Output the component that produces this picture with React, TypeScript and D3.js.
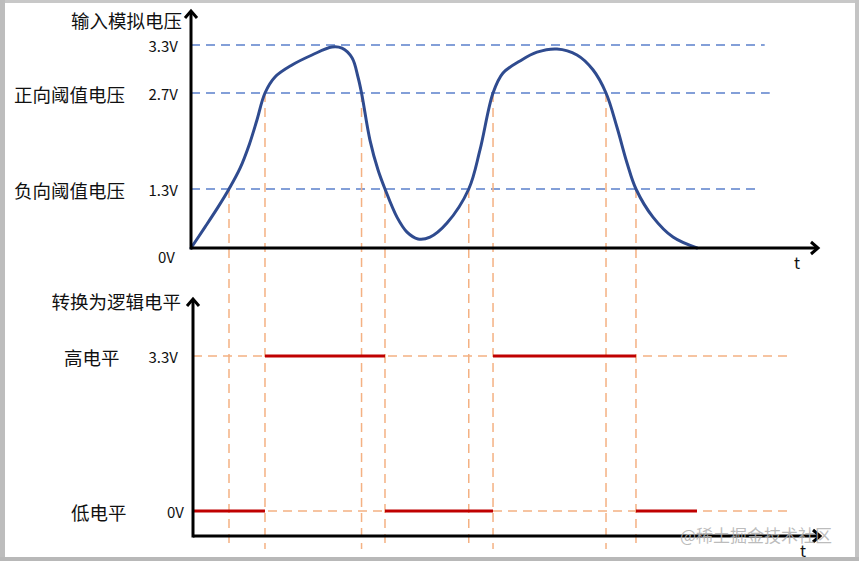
import React from "react";
import * as d3 from "d3";

// ---- data ----
const curveTime = [0, 0.223, 0.431, 0.606, 0.781, 0.93, 1.053, 1.18, 1.34, 1.611, 1.93, 2.249, 2.408, 2.568, 2.663, 2.72, 2.855, 2.982, 3.094, 3.285, 3.445, 3.62, 3.812, 4.083, 4.43, 4.609, 4.817, 4.976, 5.247, 5.518, 5.837, 6.156, 6.411, 6.619, 6.794, 6.954, 7.097, 7.368, 7.687, 8.07];
const curveVolt = [0, 0.46, 0.9, 1.3, 1.6, 1.95, 2.31, 2.7, 2.9, 3.05, 3.175, 3.275, 3.26, 3.14, 2.9, 2.7, 2.01, 1.58, 1.3, 0.68, 0.35, 0.2, 0.24, 0.55, 1.3, 1.87, 2.7, 2.95, 3.1, 3.21, 3.25, 3.175, 2.99, 2.7, 2.2, 1.68, 1.3, 0.68, 0.24, 0];

const thresholdLevels = [3.3, 2.7, 1.3];
const thresholdTicks = ["3.3V", "2.7V", "1.3V"];
const thresholdEnds = [9.15, 9.23, 9.04];
const thresholdNames = ["", "正向阈值电压", "负向阈值电压"];

const crossTimes = [0.606, 1.18, 2.72, 3.094, 4.43, 4.817, 6.619, 7.097];
const crossLevels = [1.3, 2.7, 2.7, 1.3, 1.3, 2.7, 2.7, 1.3];

const logicStart = [0.03, 1.18, 3.094, 4.817, 7.097];
const logicEnd = [1.18, 3.094, 4.817, 7.097, 8.07];
const logicLevel = [0, 3.3, 0, 3.3, 0];
const logicTicks = ["0V", "3.3V"];
const logicNames = ["低电平", "高电平"];
const logicValues = [0, 3.3];

const FONT = "'Noto Sans CJK SC', 'Noto Sans', sans-serif";

export default function App() {
  const W = 859, H = 561;
  const x = d3.scaleLinear().domain([0, 10]).range([191, 818]);
  const yTop = d3.scaleLinear().domain([0, 1.3, 2.7, 3.3]).range([248, 189, 93, 45]);
  const yBot = d3.scaleLinear().domain([0, 3.3]).range([511, 356]);

  const pts: [number, number][] = curveTime.map((t, i) => [t, curveVolt[i]]);
  const line = d3
    .line<[number, number]>()
    .x((d) => x(d[0]))
    .y((d) => yTop(d[1]))
    .curve(d3.curveCatmullRom.alpha(0.5));

  const topAxisX = x(0);
  const botAxisX = x(0) + 2;
  const topBase = yTop(0);
  const botBase = 536;
  const ink = "#111";

  return (
    <svg
      width={W}
      height={H}
      style={{ position: "absolute", left: 0, top: 0, background: "#fff" }}
      fontFamily={FONT}
    >
      {/* frame */}
      <rect x={0} y={0} width={W} height={H} fill="#fff" />
      <rect x={0} y={0} width={W} height={3} fill="#c8c8c8" />
      <rect x={0} y={0} width={5} height={H} fill="#bdbdbd" />
      <rect x={W - 4} y={0} width={4} height={H} fill="#c4c4c4" />
      <rect x={0} y={H - 4} width={W} height={4} fill="#b8b8b8" />

      {/* blue threshold guides */}
      {thresholdLevels.map((v, i) => (
        <line
          key={"g" + i}
          x1={topAxisX}
          x2={x(thresholdEnds[i])}
          y1={yTop(v)}
          y2={yTop(v)}
          stroke="#5b80cc"
          strokeWidth={1.3}
          strokeDasharray="9 6"
        />
      ))}

      {/* bottom orange horizontal guides */}
      {logicValues.map((v, i) => (
        <line
          key={"lg" + i}
          x1={botAxisX}
          x2={x(9.6)}
          y1={yBot(v)}
          y2={yBot(v)}
          stroke="#f4b183"
          strokeWidth={1.5}
          strokeDasharray="9 6"
        />
      ))}

      {/* orange verticals */}
      {crossTimes.map((t, i) => (
        <line
          key={"v" + i}
          x1={x(t)}
          x2={x(t)}
          y1={yTop(crossLevels[i])}
          y2={549}
          stroke="#f4b183"
          strokeWidth={1.5}
          strokeDasharray="9 6"
        />
      ))}

      {/* curve */}
      <path d={line(pts) || ""} fill="none" stroke="#2f4b8f" strokeWidth={3} strokeLinecap="round" strokeLinejoin="round" />

      {/* logic levels */}
      {logicStart.map((s, i) => (
        <line
          key={"r" + i}
          x1={x(s)}
          x2={x(logicEnd[i])}
          y1={yBot(logicLevel[i])}
          y2={yBot(logicLevel[i])}
          stroke="#c00000"
          strokeWidth={3}
        />
      ))}

      {/* top axes */}
      <line x1={topAxisX} x2={topAxisX} y1={topBase + 1.5} y2={11} stroke="#000" strokeWidth={3} />
      <polyline
        points={`${topAxisX - 6},${18} ${topAxisX},${11} ${topAxisX + 6},${18}`}
        fill="none"
        stroke="#000"
        strokeWidth={3}
      />
      <line x1={topAxisX} x2={818} y1={topBase} y2={topBase} stroke="#000" strokeWidth={3} />
      <polyline
        points={`${811},${topBase - 6} ${818},${topBase} ${811},${topBase + 6}`}
        fill="none"
        stroke="#000"
        strokeWidth={3}
      />

      {/* bottom axes */}
      <line x1={botAxisX} x2={botAxisX} y1={botBase + 1.5} y2={299} stroke="#000" strokeWidth={3} />
      <polyline
        points={`${botAxisX - 6},${306} ${botAxisX},${299} ${botAxisX + 6},${306}`}
        fill="none"
        stroke="#000"
        strokeWidth={3}
      />
      <line x1={botAxisX} x2={820} y1={botBase} y2={botBase} stroke="#000" strokeWidth={3} />
      <polyline
        points={`${813},${botBase - 6} ${820},${botBase} ${813},${botBase + 6}`}
        fill="none"
        stroke="#000"
        strokeWidth={3}
      />

      {/* top labels */}
      <text x={182} y={20} fontSize={18.5} textAnchor="end" dominantBaseline="central" fill={ink}>
        输入模拟电压
      </text>
      {thresholdLevels.map((v, i) => (
        <text key={"tt" + i} x={178} y={yTop(v)} fontSize={15} textAnchor="end" dominantBaseline="central" fill={ink}>
          {thresholdTicks[i]}
        </text>
      ))}
      {thresholdLevels.map((v, i) =>
        thresholdNames[i] ? (
          <text key={"tn" + i} x={14} y={yTop(v) + 1} fontSize={18.5} dominantBaseline="central" fill={ink}>
            {thresholdNames[i]}
          </text>
        ) : null
      )}
      <text x={175} y={256} fontSize={15} textAnchor="end" dominantBaseline="central" fill={ink}>
        0V
      </text>
      <text x={797} y={262} fontSize={16} textAnchor="middle" dominantBaseline="central" fill={ink}>
        t
      </text>

      {/* bottom labels */}
      <text x={181} y={301} fontSize={18.5} textAnchor="end" dominantBaseline="central" fill={ink}>
        转换为逻辑电平
      </text>
      {logicValues.map((v, i) => (
        <text key={"lt" + i} x={i === 0 ? 184 : 178} y={yBot(v)} fontSize={15} textAnchor="end" dominantBaseline="central" fill={ink}>
          {logicTicks[i]}
        </text>
      ))}
      {logicValues.map((v, i) => (
        <text key={"ln" + i} x={i === 0 ? 71 : 64} y={yBot(v) + 1} fontSize={18.5} dominantBaseline="central" fill={ink}>
          {logicNames[i]}
        </text>
      ))}
      <text x={803} y={550} fontSize={16} textAnchor="middle" dominantBaseline="central" fill={ink}>
        t
      </text>

      {/* watermark */}
      <text x={680} y={534} fontSize={17} dominantBaseline="central" fill="#b0b0b0" fillOpacity={0.85}>
        @稀土掘金技术社区
      </text>
    </svg>
  );
}
